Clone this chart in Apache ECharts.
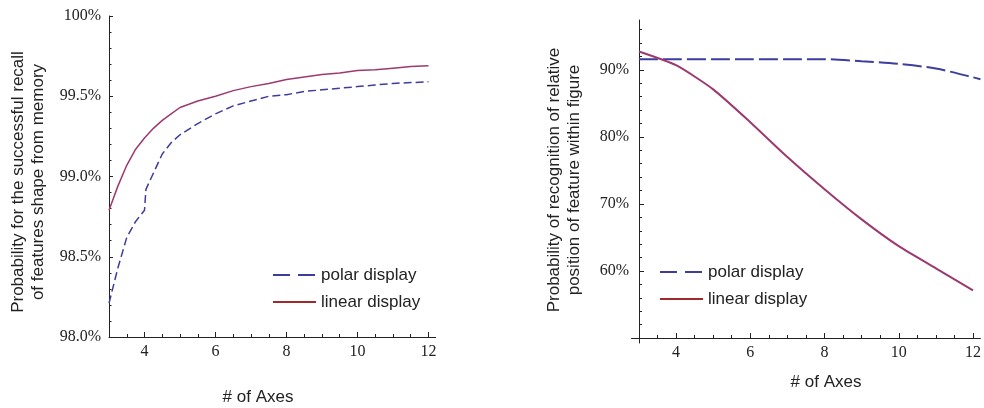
<!DOCTYPE html>
<html>
<head>
<meta charset="utf-8">
<script src="https://cdn.jsdelivr.net/npm/echarts@6/dist/echarts.min.js"></script>
<style>html,body{margin:0;padding:0;background:#fff;}#c{width:984px;height:408px;}</style>
</head>
<body>
<div id="c"></div>
<script>
// ---- data ----
const seriesNames = ['polar display', 'linear display'];
const xTitle = '# of Axes';
const leftYTitle = 'Probability for the successful recall\nof features shape from memory';
const rightYTitle = 'Probability of recognition of relative\nposition of feature within figure';

const leftLinearX = [3, 3.25, 3.5, 3.75, 4, 4.25, 4.5, 4.75, 5, 5.5, 6, 6.5, 7, 7.5, 8, 8.5, 9, 9.5, 10, 10.5, 11, 11.5, 12];
const leftLinear  = [98.79, 98.94, 99.07, 99.17, 99.24, 99.30, 99.35, 99.39, 99.43, 99.47, 99.50, 99.535, 99.56, 99.58, 99.605, 99.62, 99.635, 99.645, 99.66, 99.665, 99.675, 99.685, 99.69];
const leftPolarX  = [3, 3.25, 3.5, 3.75, 4, 4.04, 4.25, 4.5, 4.75, 5, 5.5, 6, 6.5, 7, 7.5, 8, 8.5, 9, 9.5, 10, 10.5, 11, 11.5, 12];
const leftPolar   = [98.21, 98.43, 98.62, 98.72, 98.79, 98.92, 99.02, 99.14, 99.21, 99.26, 99.33, 99.39, 99.44, 99.47, 99.50, 99.51, 99.53, 99.54, 99.55, 99.56, 99.57, 99.58, 99.585, 99.59];

const rightLinearX = [3, 4, 5, 6, 7, 8, 9, 10, 11, 12];
const rightLinear  = [92.75, 90.7, 87.1, 82.2, 77.0, 72.2, 67.7, 63.7, 60.4, 57.1];
const rightPolarX  = [3, 4, 5, 6, 7, 8, 9, 10, 11, 12, 12.2];
const rightPolar   = [91.6, 91.6, 91.6, 91.6, 91.6, 91.6, 91.3, 90.9, 90.2, 88.9, 88.6];

const xMajorTicks = [4, 6, 8, 10, 12];
const xMinorTicks = [3.5, 4.5, 5, 5.5, 6.5, 7, 7.5, 8.5, 9, 9.5, 10.5, 11, 11.5];
const rightYMajor = [60, 70, 80, 90];
const rightYMinor = [52, 54, 56, 58, 62, 64, 66, 68, 72, 74, 76, 78, 82, 84, 86, 88, 92, 94, 96];

const pairs = (xs, ys) => xs.map((x, i) => [x, ys[i]]);

const polarColor = '#3d3d9e';
const linearColor = '#9c3a70';
const legendLinearColor = '#a02a2a';
const textColor = '#222';
const serif = 'Liberation Serif';
const sans = 'Liberation Sans';

const axisLineStyle = { show: true, onZero: false, lineStyle: { color: '#222', width: 1 } };

function xMain(grid, min, max, offset) {
  return {
    type: 'value', gridIndex: grid, min: min, max: max, position: 'bottom', offset: offset,
    axisLine: axisLineStyle,
    splitLine: { show: false },
    axisTick: { show: true, inside: true, length: 5, customValues: xMajorTicks, lineStyle: { color: '#222' } },
    axisLabel: { show: true, customValues: xMajorTicks, margin: 7, fontFamily: serif, fontSize: 16, color: textColor }
  };
}
function xMinor(grid, min, max, offset) {
  return {
    type: 'value', gridIndex: grid, min: min, max: max, position: 'bottom', offset: offset,
    axisLine: { show: false }, splitLine: { show: false },
    axisTick: { show: true, inside: true, length: 3, customValues: xMinorTicks, lineStyle: { color: '#222' } },
    axisLabel: { show: false }
  };
}
function legendAt(id, left, top) {
  return {
    id: id, orient: 'vertical', left: left, top: top, itemWidth: 43, itemHeight: 14, itemGap: 7,
    textStyle: { fontFamily: sans, fontSize: 17, lineHeight: 20, color: textColor },
    itemStyle: { opacity: 0 },
    data: [
      { name: seriesNames[0], itemStyle: { opacity: 0 }, lineStyle: { color: polarColor, width: 2, type: [17, 8] } },
      { name: seriesNames[1], itemStyle: { opacity: 0 }, lineStyle: { color: legendLinearColor, width: 2, type: 'solid' } }
    ]
  };
}

const option = {
  animation: false,
  backgroundColor: '#fff',
  grid: [
    { left: 109, right: 984 - 109 - 9.2 * 35.5, top: 16, bottom: 71 },
    { left: 631.5, right: 0, top: 20, bottom: 65 }
  ],
  xAxis: [
    xMain(0, 3, 12.2, 0),
    xMinor(0, 3, 12.2, 0),
    xMain(1, 2.8, 12.2, -5),
    xMinor(1, 2.8, 12.2, -5)
  ],
  yAxis: [
    {
      type: 'value', gridIndex: 0, min: 98, max: 100, interval: 0.5, position: 'left',
      axisLine: axisLineStyle, splitLine: { show: false },
      axisTick: { show: true, inside: true, length: 4, lineStyle: { color: '#222' } },
      minorTick: { show: true, splitNumber: 5, length: 2.5, lineStyle: { color: '#222' } },
      axisLabel: { margin: 8, fontFamily: serif, fontSize: 16, color: textColor,
        formatter: v => (v === 100 ? '100%' : v.toFixed(1) + '%') }
    },
    {
      type: 'value', gridIndex: 1, min: 49.25, max: 97.45, position: 'left', offset: -7.5,
      axisLine: axisLineStyle, splitLine: { show: false },
      axisTick: { show: true, inside: true, length: 5, customValues: rightYMajor, lineStyle: { color: '#222' } },
      axisLabel: { customValues: rightYMajor, margin: 10, fontFamily: serif, fontSize: 16, color: textColor,
        formatter: v => v + '%' }
    },
    {
      type: 'value', gridIndex: 1, min: 49.25, max: 97.45, position: 'left', offset: -7.5,
      axisLine: { show: false }, splitLine: { show: false },
      axisTick: { show: true, inside: true, length: 3, customValues: rightYMinor, lineStyle: { color: '#222' } },
      axisLabel: { show: false }
    }
  ],
  legend: [
    legendAt('legendLeft', 267, 260),
    legendAt('legendRight', 654, 257)
  ],
  series: [
    { name: seriesNames[0], type: 'line', xAxisIndex: 0, yAxisIndex: 0, symbol: 'none',
      data: pairs(leftPolarX, leftPolar), lineStyle: { color: polarColor, width: 1.5, type: [8, 4] }, itemStyle: { color: polarColor } },
    { name: seriesNames[1], type: 'line', xAxisIndex: 0, yAxisIndex: 0, symbol: 'none',
      data: pairs(leftLinearX, leftLinear), lineStyle: { color: linearColor, width: 1.5 }, itemStyle: { color: linearColor } },
    { name: seriesNames[0], type: 'line', xAxisIndex: 2, yAxisIndex: 1, symbol: 'none', smooth: 0.3,
      data: pairs(rightPolarX, rightPolar), lineStyle: { color: polarColor, width: 2, type: [19, 5] }, itemStyle: { color: polarColor } },
    { name: seriesNames[1], type: 'line', xAxisIndex: 2, yAxisIndex: 1, symbol: 'none', smooth: 0.2,
      data: pairs(rightLinearX, rightLinear), lineStyle: { color: linearColor, width: 2 }, itemStyle: { color: linearColor } }
  ],
  graphic: [
    { type: 'text', x: 28, y: 182, rotation: Math.PI / 2,
      style: { text: leftYTitle, fontFamily: sans, fontSize: 17, lineHeight: 20, fill: textColor, align: 'center', verticalAlign: 'middle' } },
    { type: 'text', x: 564, y: 180, rotation: Math.PI / 2,
      style: { text: rightYTitle, fontFamily: sans, fontSize: 17, lineHeight: 20, fill: textColor, align: 'center', verticalAlign: 'middle' } },
    { type: 'text', x: 258, y: 397,
      style: { text: xTitle, fontFamily: sans, fontSize: 17, fill: textColor, align: 'center', verticalAlign: 'middle' } },
    { type: 'text', x: 826, y: 382,
      style: { text: xTitle, fontFamily: sans, fontSize: 17, fill: textColor, align: 'center', verticalAlign: 'middle' } }
  ]
};

const chart = echarts.init(document.getElementById('c'), null, { renderer: 'canvas' });
chart.setOption(option);
</script>
</body>
</html>
